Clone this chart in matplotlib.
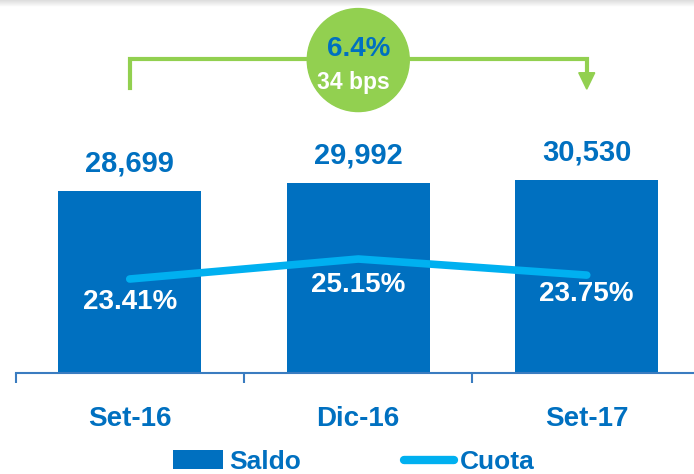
import numpy as np
import matplotlib
matplotlib.use("Agg")
import matplotlib.pyplot as plt
from matplotlib.patches import Patch, Ellipse, Polygon
from matplotlib.lines import Line2D
import matplotlib.transforms as mtransforms

plt.rcParams['font.family'] = ['Liberation Sans', 'DejaVu Sans']
plt.rcParams['font.weight'] = 'bold'

# data
periods = ['Set-16', 'Dic-16', 'Set-17']
saldo = [28699, 29992, 30530]
cuota = [23.41, 25.15, 23.75]
growth_txt = '6.4%'
bps_txt = '34 bps'

blue = '#0070C0'
light_blue = '#00B0F0'
green = '#92D050'

fig = plt.figure(figsize=(6.94, 4.74), dpi=100)

# light shadow band along the top edge
shade = fig.add_axes([0, 1 - 7 / 474, 1, 7 / 474])
grad = np.linspace(0.86, 1.0, 50).reshape(-1, 1)
shade.imshow(grad, aspect='auto', cmap='gray', vmin=0, vmax=1, extent=[0, 1, 0, 1])
shade.axis('off')

ax = fig.add_axes([15.5 / 694, 101 / 474, 685.5 / 694, 373 / 474])
ax.patch.set_visible(False)
x = np.arange(len(periods))
ax.bar(x, saldo, width=0.626, color=blue, zorder=2)
ax.set_xlim(-0.5, 2.5)
ax.set_ylim(0, 58860)

for s in ['top', 'left', 'right']:
    ax.spines[s].set_visible(False)
ax.spines['bottom'].set_color('#3A7CC0')
ax.spines['bottom'].set_linewidth(1.5)
ax.set_yticks([])
ax.set_xticks(x)
ax.set_xticklabels(periods, fontsize=20, color=blue, fontweight='bold')
ax.tick_params(axis='x', which='major', length=0, pad=23.5)
ax.set_xticks([-0.5, 0.5, 1.5, 2.5], minor=True)
ax.tick_params(axis='x', which='minor', length=7.5, width=1.5, color='#3A7CC0', direction='out')

for xi, v in zip(x, saldo):
    ax.annotate(f'{v:,}', (xi, v), xytext=(0, 14), textcoords='offset points',
                ha='center', va='baseline', fontsize=21, color=blue, fontweight='bold')

ax2 = ax.twinx()
ax2.set_ylim(15.23, 47.69)
ax2.axis('off')
ax2.plot(x, cuota, color=light_blue, lw=5.5, solid_capstyle='round', zorder=3)
pct_offsets = [-16.5, -18.7, -13.7]
for xi, v, off in zip(x, cuota, pct_offsets):
    ax2.annotate(f'{v:.2f}%', (xi, v), xytext=(0, off), textcoords='offset points',
                 ha='center', va='center', fontsize=20, color='white', fontweight='bold')

# growth bracket with arrow
tr = mtransforms.blended_transform_factory(ax.transData, ax.transAxes)
y_top = 0.842
y_low = 0.764
ax.plot([0, 0, 2, 2], [y_low, y_top, y_top, 0.80], color=green, lw=3,
        transform=tr, clip_on=False, solid_joinstyle='miter')
ax.add_patch(Polygon([[2 - 0.035, 0.805], [2 + 0.035, 0.805], [2, 0.761]], closed=True,
                     color=green, transform=tr, clip_on=False))
ax.add_patch(Ellipse((1, 0.839), width=102 / 228.5, height=103 / 373, color=green,
                     transform=tr, clip_on=False, zorder=4))
ax.text(1, 0.868, growth_txt, transform=tr, ha='center', va='center', fontsize=20,
        color=blue, fontweight='bold', zorder=5)
ax.text(0.98, 0.78, bps_txt, transform=tr, ha='center', va='center', fontsize=16.5,
        color='white', fontweight='bold', zorder=5)

handles = [Patch(facecolor=blue, edgecolor='none'),
           Line2D([0], [0], color=light_blue, lw=6, solid_capstyle='round')]
leg = fig.legend(handles, ['Saldo', 'Cuota'], loc='center', ncol=2,
                 bbox_to_anchor=(354 / 694, 1 - 462 / 474), frameon=False,
                 fontsize=19, handlelength=1.9, handleheight=0.72, handletextpad=0.23,
                 columnspacing=3.9, borderpad=0.1)
for t in leg.get_texts():
    t.set_color(blue)
    t.set_fontweight('bold')

fig.savefig('out.png', dpi=100)
